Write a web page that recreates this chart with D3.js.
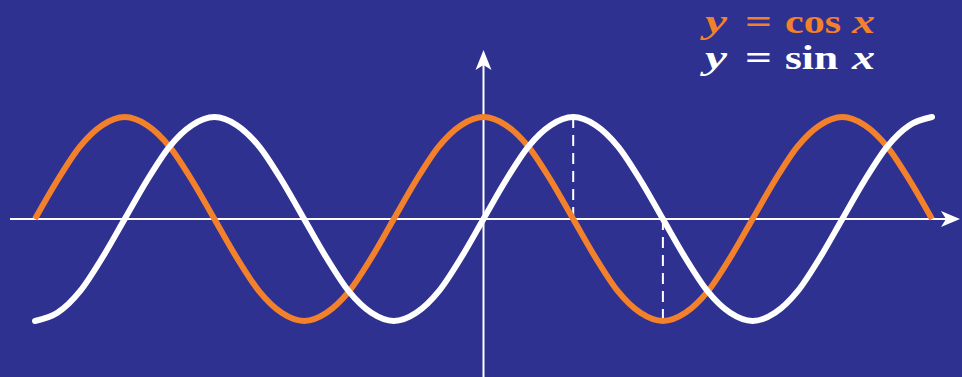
<!DOCTYPE html>
<html>
<head>
<meta charset="utf-8">
<script src="https://cdn.jsdelivr.net/npm/d3@7"></script>
<style>
  html, body { margin: 0; padding: 0; background: #2e3190; }
  svg { display: block; }
</style>
</head>
<body>
<div id="chart"></div>
<script>
// x positions in steps of pi/8, from -5pi/2 (-20) to 5pi/2 (20)
var xSteps = d3.range(-20, 21);
var sinValues = [-1, -0.92, -0.71, -0.38, 0, 0.38, 0.71, 0.92, 1, 0.92, 0.71, 0.38, 0, -0.38, -0.71, -0.92, -1, -0.92, -0.71, -0.38,
	0, 0.38, 0.71, 0.92, 1, 0.92, 0.71, 0.38, 0, -0.38, -0.71, -0.92, -1, -0.92, -0.71, -0.38, 0, 0.38, 0.71, 0.92, 1];
var cosValues = [0, 0.38, 0.71, 0.92, 1, 0.92, 0.71, 0.38, 0, -0.38, -0.71, -0.92, -1, -0.92, -0.71, -0.38, 0, 0.38, 0.71, 0.92,
	1, 0.92, 0.71, 0.38, 0, -0.38, -0.71, -0.92, -1, -0.92, -0.71, -0.38, 0, 0.38, 0.71, 0.92, 1, 0.92, 0.71, 0.38, 0];
var legendLabels = [["y", "=", "cos", "x"], ["y", "=", "sin", "x"]];
// dashed guides: sin peak at pi/2, cos trough at pi
var guideSteps = [4, 8];

var width = 962, height = 377;
var orange = "#f3802a", white = "#ffffff";

var svg = d3.select("#chart")
	.append("svg")
	.attr("width", width)
	.attr("height", height);

svg.append("rect")
	.attr("width", width)
	.attr("height", height)
	.attr("fill", "#2e3190");

var x = d3.scaleLinear()
	.domain([-20, 20])
	.range([35, 932]);

var y = d3.scaleLinear()
	.domain([-1, 1])
	.range([321, 117]);

// axes
svg.append("line")
	.attr("x1", 10).attr("x2", 950)
	.attr("y1", y(0)).attr("y2", y(0))
	.attr("stroke", white).attr("stroke-width", 2);

svg.append("path")
	.attr("d", "M" + 960 + "," + y(0) + "L" + 941 + "," + (y(0) - 8) + "L" + 946 + "," + y(0) + "L" + 941 + "," + (y(0) + 8) + "Z")
	.attr("fill", white);

svg.append("line")
	.attr("x1", x(0)).attr("x2", x(0))
	.attr("y1", height).attr("y2", 60)
	.attr("stroke", white).attr("stroke-width", 2);

svg.append("path")
	.attr("d", "M" + x(0) + ",50L" + (x(0) - 8) + ",70L" + x(0) + ",65L" + (x(0) + 8) + ",70Z")
	.attr("fill", white);

// dashed guides
svg.append("line")
	.attr("x1", x(guideSteps[0])).attr("x2", x(guideSteps[0]))
	.attr("y1", y(sinValues[xSteps.indexOf(guideSteps[0])])).attr("y2", y(0))
	.attr("stroke", white).attr("stroke-width", 2)
	.attr("stroke-dasharray", "11,7");

svg.append("line")
	.attr("x1", x(guideSteps[1])).attr("x2", x(guideSteps[1]))
	.attr("y1", y(0)).attr("y2", y(cosValues[xSteps.indexOf(guideSteps[1])]))
	.attr("stroke", white).attr("stroke-width", 2)
	.attr("stroke-dasharray", "11,7");

var line = d3.line()
	.x(function (d) { return x(d[0]); })
	.y(function (d) { return y(d[1]); })
	.curve(d3.curveMonotoneX);

svg.append("path")
	.datum(xSteps.map(function (s, i) { return [s, cosValues[i]]; }))
	.attr("d", line)
	.attr("fill", "none")
	.attr("stroke", orange)
	.attr("stroke-width", 6);

svg.append("path")
	.datum(xSteps.map(function (s, i) { return [s, sinValues[i]]; }))
	.attr("d", line)
	.attr("fill", "none")
	.attr("stroke", white)
	.attr("stroke-width", 6)
	.attr("stroke-linecap", "round");

// legend, each piece stretched to the width seen in the original
var pieceX = [705, 745, 785, 852];
var pieceW = [[22, 27, 56, 23], [22, 27, 53, 23]];
var legendColors = [orange, white];
legendLabels.forEach(function (parts, row) {
	var g = svg.append("g")
		.attr("transform", "translate(0," + (33 + row * 36) + ")")
		.attr("fill", legendColors[row])
		.style("font-family", "'Liberation Serif', 'DejaVu Serif', serif")
		.style("font-size", "34px")
		.style("font-weight", "bold");
	parts.forEach(function (p, i) {
		g.append("text")
			.attr("x", pieceX[i])
			.attr("textLength", pieceW[row][i])
			.attr("lengthAdjust", "spacingAndGlyphs")
			.style("font-style", (i === 0 || i === 3) ? "italic" : "normal")
			.text(p);
	});
});
</script>
</body>
</html>
